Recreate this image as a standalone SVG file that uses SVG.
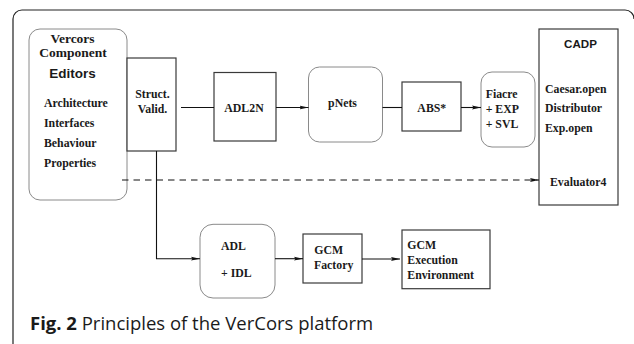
<svg xmlns="http://www.w3.org/2000/svg" width="634" height="344" viewBox="0 0 634 344">
<defs>
<marker id="ah" markerWidth="9" markerHeight="5" refX="9" refY="2.5" orient="auto" markerUnits="userSpaceOnUse">
<path d="M0,0.6 L9,2.5 L0,4.4 L1.5,2.5 Z" fill="#111"/>
</marker>
</defs>
<style>
.frame{fill:none;stroke:#222;stroke-width:1.2}
.rbox{fill:#fff;stroke:#8a8a8a;stroke-width:1}
.box{fill:#fff;stroke:#3a3a3a;stroke-width:1.2}
.t{font-family:"Liberation Serif",serif;font-weight:bold;font-size:11.8px;fill:#1a1a1a}
.tl{font-family:"Liberation Serif",serif;font-weight:bold;font-size:13.5px;fill:#1a1a1a}
.s{font-family:"Liberation Sans",sans-serif;font-weight:bold;fill:#1a1a1a}
.c{stroke:#111;stroke-width:1.1;fill:none}
.d{stroke-dasharray:6.5 5}
.cap{font-family:"Open Sans",sans-serif;font-size:18.5px;fill:#1a1a1a}
.m{text-anchor:middle}
</style>
<path class="frame" d="M13,345 V19 A9,9 0 0 1 22,10 H625 A9,9 0 0 1 634,19"/>
<g id="editors">
<rect class="rbox" x="29" y="29" width="98" height="171" rx="11"/>
<text class="tl m" x="72.5" y="43">Vercors</text>
<text class="tl m" x="73" y="57">Component</text>
<text class="s m" x="72.5" y="78" font-size="13.5">Editors</text>
<text class="t" x="44" y="107">Architecture</text>
<text class="t" x="44" y="127">Interfaces</text>
<text class="t" x="44" y="147">Behaviour</text>
<text class="t" x="44" y="166.5">Properties</text>
</g>
<g id="struct">
<rect class="box" x="127" y="58" width="49" height="93"/>
<text class="t m" x="152.5" y="97.5">Struct.</text>
<text class="t m" x="152.5" y="113">Valid.</text>
</g>
<g id="adl2n">
<rect class="box" x="214" y="72.5" width="62" height="68.5"/>
<text class="t m" x="244" y="112">ADL2N</text>
</g>
<g id="pnets">
<rect class="rbox" x="308.5" y="67" width="74" height="75" rx="11"/>
<text class="t m" x="342.5" y="107">pNets</text>
</g>
<g id="abs">
<rect class="box" x="402" y="82" width="59" height="49"/>
<text class="t m" x="431.8" y="111.5">ABS*</text>
</g>
<g id="fiacre">
<rect class="rbox" x="481" y="72" width="54" height="75" rx="11"/>
<text class="t" x="485.7" y="97.5">Fiacre</text>
<text class="t" x="485.7" y="112.5">+ EXP</text>
<text class="t" x="485.7" y="127.5">+ SVL</text>
</g>
<g id="cadp">
<rect class="box" x="539" y="29" width="79" height="176"/>
<text class="s m" x="580.5" y="48" font-size="11.6">CADP</text>
<text class="t" x="545" y="93">Caesar.open</text>
<text class="t" x="545" y="112.3">Distributor</text>
<text class="t" x="545" y="131.5">Exp.open</text>
<text class="t" x="550" y="185.7">Evaluator4</text>
</g>
<g id="adl">
<rect class="rbox" x="200" y="224.3" width="75" height="73.7" rx="13"/>
<text class="t" x="221" y="250">ADL</text>
<text class="t" x="221" y="276.5">+ IDL</text>
</g>
<g id="gcmfactory">
<rect class="box" x="303" y="234" width="59" height="49"/>
<text class="t" x="314.3" y="254">GCM</text>
<text class="t" x="314" y="268.5">Factory</text>
</g>
<g id="gcmexec">
<rect class="box" x="402" y="230" width="88" height="58.7"/>
<text class="t" x="407.3" y="249.3">GCM</text>
<text class="t" x="407.3" y="264.3">Execution</text>
<text class="t" x="407.3" y="279">Environment</text>
</g>
<g id="connectors">
<line class="c" x1="181" y1="107.5" x2="214" y2="107.5"/>
<line class="c" x1="276" y1="107.5" x2="308.5" y2="107.5" marker-end="url(#ah)"/>
<line class="c" x1="382.5" y1="107.5" x2="402" y2="107.5"/>
<line class="c" x1="461" y1="107.5" x2="481" y2="107.5" marker-end="url(#ah)"/>
<line class="c d" x1="122" y1="180" x2="539" y2="180" marker-end="url(#ah)"/>
<path class="c" d="M156.5,151 V258.7 H200" marker-end="url(#ah)"/>
<line class="c" x1="275" y1="258.7" x2="303" y2="258.7" marker-end="url(#ah)"/>
<line class="c" x1="362" y1="259" x2="400" y2="259" marker-end="url(#ah)"/>
</g>
<text class="cap" x="30" y="329.5"><tspan font-weight="bold">Fig. 2</tspan> Principles of the VerCors platform</text>
</svg>
